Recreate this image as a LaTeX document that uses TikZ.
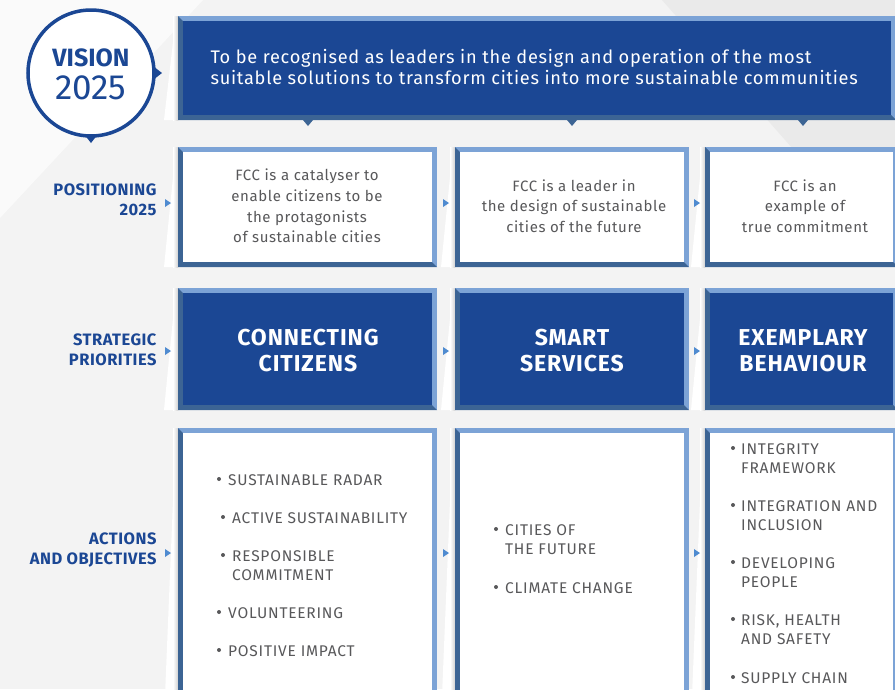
\documentclass[tikz,border=0pt]{standalone}
\usepackage{fontspec}
\setmainfont{Fira Sans}
\usetikzlibrary{positioning}
\definecolor{mblue}{HTML}{1B4794}
\definecolor{mlight}{HTML}{7CA3D6}
\definecolor{mdark}{HTML}{3C6494}
\definecolor{mgrey}{HTML}{58585A}
\definecolor{marrow}{HTML}{4F8BD0}
\definecolor{mbg}{HTML}{F3F3F3}
\definecolor{mbgl}{HTML}{FAFAFA}
\definecolor{mbgd}{HTML}{EAEAEA}
\tikzset{label/.style = {anchor=east, align=right, mblue,
                         font=\fontsize{16.5}{20.5}\selectfont\bfseries\addfontfeatures{LetterSpace=3}},
         posit/.style = {align=center, mgrey,
                         font=\fontsize{15}{20.6}\selectfont\addfontfeatures{LetterSpace=4}},
         prio/.style = {align=center, white,
                        font=\fontsize{23}{26}\selectfont\bfseries\addfontfeatures{LetterSpace=4}},
         bitem/.style = {anchor=base west, align=left, mgrey, inner sep=0pt,
                         font=\fontsize{15.5}{19}\selectfont\addfontfeatures{LetterSpace=5}}}
% bevelled box: x1, y1, x2, y2, fill
\newcommand{\bevelbox}[5]{%
  \fill [white] (#1-14, #4) -- (#1-2, #2) -- (#1, #2) -- (#1, #4) -- cycle;
  \shade [left color=white, right color=black!18] (#1-5, #2) rectangle (#1, #4);
  \fill [mlight] (#1, #2) rectangle (#3, #4);
  \fill [mdark] (#1, #2) -- (#1+5, #2+5) -- (#1+5, #4-5) -- (#3-5, #4-5)
                -- (#3, #4) -- (#1, #4) -- cycle;
  \fill [#5] (#1+5, #2+5) rectangle (#3-5, #4-5);}
% small marker pointing right
\newcommand{\marker}[2]{%
  \fill [marrow] (#1-3, #2-4) -- (#1+3, #2) -- (#1-3, #2+4) -- cycle;}
% bullet dot
\newcommand{\bdot}[2]{\fill [mgrey] (#1, #2) circle (2pt);}

\begin{document}
\begin{tikzpicture}[x=1pt, y=-1pt]
    \useasboundingbox (0, 0) rectangle (895, 689);
    \clip (0, 0) rectangle (895, 689);
    \fill [mbg] (0, 0) rectangle (895, 689);
    \fill [mbgl] (0, 0) -- (203, 0) -- (0, 218) -- cycle;
    \fill [mbgd] (662, 0) -- (895, 0) -- (895, 265) -- cycle;

    % vision
    \fill [white] (91, 73) circle (63);
    \draw [mblue, line width=3.5pt] (91, 73) circle (63);
    \fill [mblue] (153, 66) -- (162, 73) -- (153, 80) -- cycle;
    \fill [mblue] (84, 134) -- (91, 143) -- (98, 134) -- cycle;
    \node [mblue, font=\fontsize{25}{25}\selectfont\bfseries] (vis) at (91, 58) {VISION};
    \node [mblue, font=\fontsize{35}{35}\selectfont\addfontfeatures{LetterSpace=-1}] (year) at (91, 88) {2025};

    \bevelbox{178}{16}{896}{120}{mblue}
    \node [anchor=west, align=left, white,
           font=\fontsize{18.2}{21}\selectfont\addfontfeatures{LetterSpace=4}] (vtext) at (207, 67)
      {To be recognised as leaders in the design and operation of the most\\
       suitable solutions to transform cities into more sustainable communities};
    \foreach \x in {308, 572, 803}
      \fill [mdark] (\x-5, 120) -- (\x, 126) -- (\x+5, 120) -- cycle;

    % rows
    \foreach \y/\yy in {147/267, 288/410, 428/720} {
      \bevelbox{178}{\y}{437}{\yy}{white}
      \bevelbox{455}{\y}{689}{\yy}{white}
      \bevelbox{705}{\y}{898}{\yy}{white}
    }
    \fill [mblue] (183, 293) rectangle (432, 405);
    \fill [mblue] (460, 293) rectangle (684, 405);
    \fill [mblue] (710, 293) rectangle (893, 405);

    \foreach \y in {203, 351, 553} {
      \marker{168}{\y}
      \marker{446}{\y}
      \marker{697}{\y}
    }

    % left labels
    \node [label] (lpos) at (160, 200) {POSITIONING\\2025};
    \node [label] (lprio) at (160, 350) {STRATEGIC\\PRIORITIES};
    \node [label] (lact) at (160, 550) {ACTIONS\\AND OBJECTIVES};

    % positioning
    \node [posit] (pos1) at (307, 206) {FCC is a catalyser to\\enable citizens to be\\
                                       the protagonists\\of sustainable cities};
    \node [posit] (pos2) at (574, 206) {FCC is a leader in\\the design of sustainable\\
                                       cities of the future};
    \node [posit] (pos3) at (805, 206) {FCC is an\\example of\\true commitment};

    % priorities
    \node [prio] (prio1) at (308, 351) {CONNECTING\\CITIZENS};
    \node [prio] (prio2) at (572, 351) {SMART\\SERVICES};
    \node [prio] (prio3) at (803, 351) {EXEMPLARY\\BEHAVIOUR};

    % actions
    \bdot{219}{479} \node [bitem] (a1) at (228, 485) {SUSTAINABLE RADAR};
    \bdot{223}{517} \node [bitem] (a2) at (232, 523) {ACTIVE SUSTAINABILITY};
    \bdot{223}{555} \node [bitem] (a3) at (232, 580) {RESPONSIBLE\\COMMITMENT};
    \bdot{219}{612} \node [bitem] (a4) at (228, 618) {VOLUNTEERING};
    \bdot{219}{650} \node [bitem] (a5) at (228, 656) {POSITIVE IMPACT};

    \bdot{496}{529} \node [bitem] (b1) at (505, 554) {CITIES OF\\THE FUTURE};
    \bdot{496}{587} \node [bitem] (b2) at (505, 593) {CLIMATE CHANGE};

    \bdot{733}{448} \node [bitem] (c1) at (741, 473) {INTEGRITY\\FRAMEWORK};
    \bdot{733}{505} \node [bitem] (c2) at (741, 530) {INTEGRATION AND\\INCLUSION};
    \bdot{733}{562} \node [bitem] (c3) at (741, 587) {DEVELOPING\\PEOPLE};
    \bdot{733}{619} \node [bitem] (c4) at (741, 644) {RISK, HEALTH\\AND SAFETY};
    \bdot{733}{677} \node [bitem] (c5) at (741, 683) {SUPPLY CHAIN};
  \end{tikzpicture}
\end{document}
